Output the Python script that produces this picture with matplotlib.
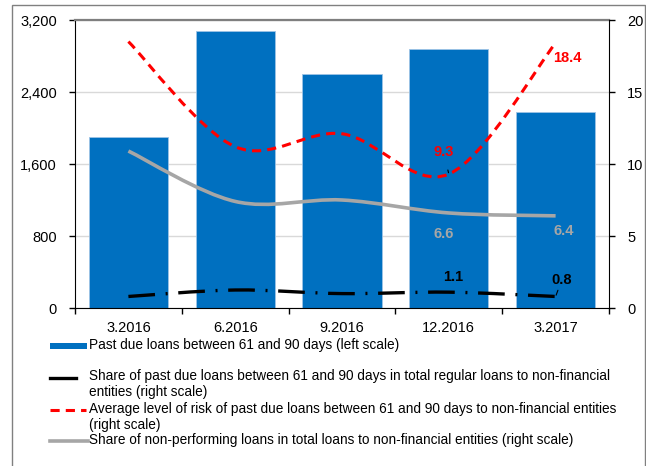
import numpy as np
import matplotlib
matplotlib.use("Agg")
import matplotlib.pyplot as plt
from matplotlib.path import Path
from matplotlib.patches import PathPatch, Rectangle
from matplotlib.lines import Line2D
from matplotlib.ticker import FuncFormatter

plt.rcParams['font.family'] = ['Liberation Sans', 'DejaVu Sans']
plt.rcParams['font.size'] = 9.8

# quarters
quarters = ['3.2016', '6.2016', '9.2016', '12.2016', '3.2017']

# past due loans 61-90 days, left scale
past_due = [1900, 3080, 2600, 2880, 2180]

# right scale series (%)
share_past_due = [0.8, 1.25, 1.0, 1.1, 0.8]
avg_risk = [18.5, 11.2, 12.1, 9.3, 18.4]
npl_share = [10.9, 7.4, 7.5, 6.6, 6.4]

legend_labels = [
    'Past due loans between 61 and 90 days (left scale)',
    'Share of past due loans between 61 and 90 days in total regular loans to non-financial\nentities (right scale)',
    'Average level of risk of past due loans between 61 and 90 days to non-financial entities\n(right scale)',
    'Share of non-performing loans in total loans to non-financial entities (right scale)',
]

BLUE = '#0070C0'
RED = '#FF0000'
GREY = '#A6A6A6'


def smooth_path(xs, ys):
    # excel-style smoothed line as cubic bezier segments
    pts = np.column_stack([xs, ys]).astype(float)
    n = len(pts)
    verts = [pts[0]]
    codes = [Path.MOVETO]
    for i in range(n - 1):
        p0 = pts[i - 1] if i > 0 else pts[i]
        p3 = pts[i + 2] if i + 2 < n else pts[i + 1]
        c1 = pts[i] + (pts[i + 1] - p0) / 6.0
        c2 = pts[i + 1] - (p3 - pts[i]) / 6.0
        verts += [c1, c2, pts[i + 1]]
        codes += [Path.CURVE4] * 3
    return Path(verts, codes)


fig = plt.figure(figsize=(6.46, 4.66), dpi=100)
ax = fig.add_axes([75 / 646, 1 - 308 / 466, 534 / 646, 288 / 466])
ax2 = ax.twinx()

x = np.arange(len(quarters))
ax.bar(x, past_due, width=0.74, color=BLUE, edgecolor='#9DC3E6', linewidth=0.6, zorder=2)

ax.set_xlim(-0.5, 4.5)
ax.set_ylim(0, 3200)
ax.set_yticks([0, 800, 1600, 2400, 3200])
ax.yaxis.set_major_formatter(FuncFormatter(lambda v, p: f'{v:,.0f}'))
ax.grid(axis='y', color='#D9D9D9', linewidth=1)
ax.set_axisbelow(True)

# category boundaries carry the tick marks, labels sit in the middle
ax.set_xticks(np.arange(-0.5, 5, 1.0))
ax.set_xticklabels([])
ax.set_xticks(x, minor=True)
ax.set_xticklabels(quarters, minor=True)
ax.tick_params(axis='x', which='major', direction='out', length=4, width=1, color='black')
ax.tick_params(axis='x', which='minor', length=0, pad=9, labelsize=10.5)
ax.tick_params(axis='y', direction='out', length=4, width=1, pad=9, labelsize=10.5)

ax2.set_ylim(0, 20)
ax2.set_yticks([0, 5, 10, 15, 20])
ax2.tick_params(axis='y', direction='out', length=4, width=1, pad=9, labelsize=10.5)

for s in ['left', 'bottom']:
    ax.spines[s].set_color('black')
ax.spines['top'].set_color('#7F7F7F')
ax.spines['top'].set_linewidth(1.6)
ax.spines['right'].set_visible(False)
for s in ['top', 'left', 'bottom']:
    ax2.spines[s].set_visible(False)
ax2.spines['right'].set_color('black')

ax2.add_patch(PathPatch(smooth_path(x, npl_share), fill=False, edgecolor=GREY,
                        lw=2.6, capstyle='butt', zorder=3))
ax2.add_patch(PathPatch(smooth_path(x, avg_risk), fill=False, edgecolor=RED,
                        lw=2.2, linestyle=(0, (3, 2)), zorder=4))
ax2.add_patch(PathPatch(smooth_path(x, share_past_due), fill=False, edgecolor='black',
                        lw=2.4, linestyle=(0, (8, 3.2, 0.6, 3.2)), zorder=5))

bold = dict(fontweight='bold', fontsize=10.5, ha='center', va='center')
ax2.annotate(f'{avg_risk[4]:.1f}', (4, avg_risk[4]), xytext=(12, -15),
             textcoords='offset pixels', color=RED, **bold)
ax2.annotate(f'{avg_risk[3]:.1f}', (3, avg_risk[3]), xytext=(-5, 22),
             textcoords='offset pixels', color=RED,
             arrowprops=dict(arrowstyle='-', color='black', lw=0.8, shrinkA=6, shrinkB=1), **bold)
ax2.annotate(f'{npl_share[3]:.1f}', (3, npl_share[3]), xytext=(-5, -21),
             textcoords='offset pixels', color=GREY, **bold)
ax2.annotate(f'{npl_share[4]:.1f}', (4, npl_share[4]), xytext=(8, -15),
             textcoords='offset pixels', color=GREY, **bold)
ax2.annotate(f'{share_past_due[3]:.1f}', (3, share_past_due[3]), xytext=(4, 15),
             textcoords='offset pixels', color='black', **bold)
ax2.annotate(f'{share_past_due[4]:.1f}', (4, share_past_due[4]), xytext=(6, 16),
             textcoords='offset pixels', color='black',
             arrowprops=dict(arrowstyle='-', color='black', lw=0.8, shrinkA=6, shrinkB=1), **bold)

# legend drawn by hand under the plot
H = 466.0
W = 646.0


def fy(py):
    return 1 - py / H


fig.add_artist(Rectangle((50 / W, fy(349)), 37 / W, 6 / H, transform=fig.transFigure,
                         facecolor=BLUE, edgecolor='none'))
fig.add_artist(Line2D([50 / W, 76 / W], [fy(378)] * 2, transform=fig.transFigure,
                      color='black', lw=2.4))
fig.add_artist(Line2D([50 / W, 86 / W], [fy(410)] * 2, transform=fig.transFigure,
                      color=RED, lw=2.2, linestyle=(0, (3, 2))))
fig.add_artist(Line2D([50 / W, 88 / W], [fy(441)] * 2, transform=fig.transFigure,
                      color=GREY, lw=2.6))

leg_y = [346, 377, 410, 441]
for lab, py in zip(legend_labels, leg_y):
    fig.text(89 / W, fy(py - 8), lab, ha='left', va='top', linespacing=1.18)

# outer frame
fig.add_artist(Rectangle((12 / W, -0.01), (645 - 12) / W, fy(5) + 0.01,
                         transform=fig.transFigure, fill=False, edgecolor='#808080', lw=1))

fig.savefig('out.png', dpi=100)
